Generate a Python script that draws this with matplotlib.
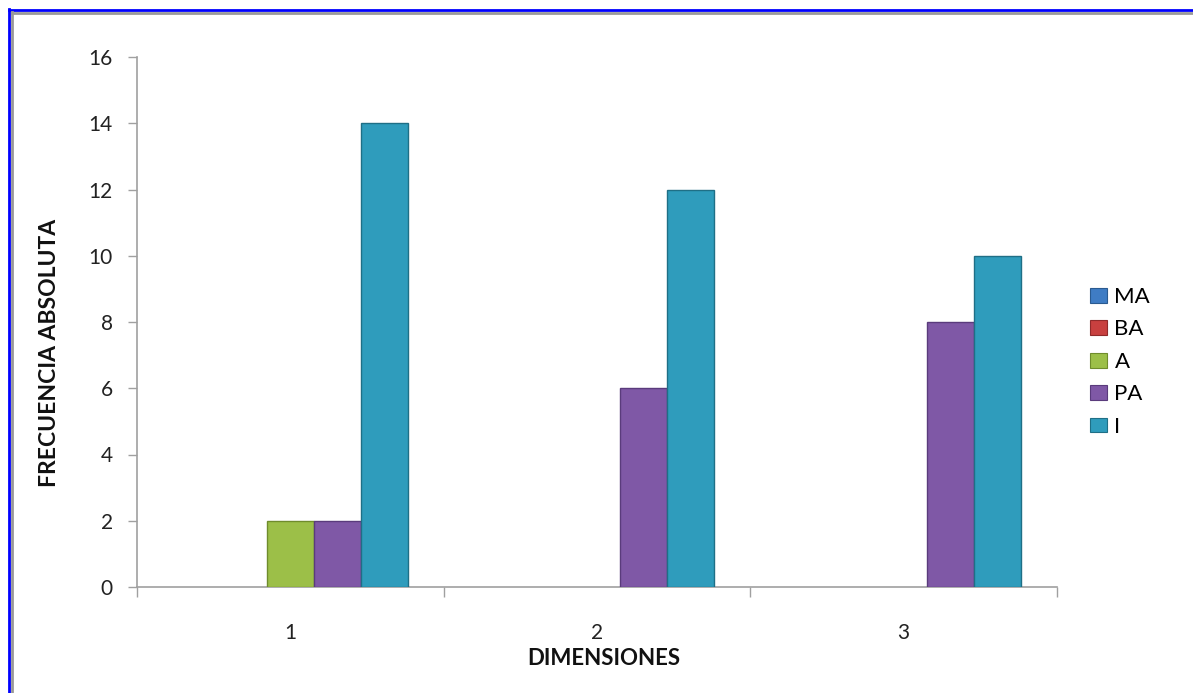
import matplotlib
matplotlib.use("Agg")
import matplotlib.pyplot as plt
import numpy as np
from matplotlib.lines import Line2D
from matplotlib.patches import Patch

categories = ["1", "2", "3"]
series_names = ["MA", "BA", "A", "PA", "I"]
MA = [0, 0, 0]
BA = [0, 0, 0]
A = [2, 0, 0]
PA = [2, 6, 8]
I = [14, 12, 10]
series_values = [MA, BA, A, PA, I]
colors = ["#3f7cc4", "#c8403f", "#9cbf48", "#7f58a6", "#2f9cbc"]
edges = ["#2a5a90", "#8f2a2a", "#6f8c2c", "#5a3b7c", "#1f6f86"]

plt.rcParams['font.family'] = ['Lato', 'DejaVu Sans']
fig = plt.figure(figsize=(11.93, 6.93), dpi=100)
ax = fig.add_axes([137/1193, 1-587/693, 920/1193, 530/693])

x = np.arange(len(categories))
w = 0.153
for i, (name, vals) in enumerate(zip(series_names, series_values)):
    vals = np.array(vals, dtype=float)
    lw = np.where(vals > 0, 1.0, 0.0)
    ax.bar(x + (i - 2) * w, vals, width=w, color=colors[i], edgecolor=edges[i],
           linewidth=lw, zorder=3)

ax.set_xlim(-0.5, 2.5)
ax.set_ylim(0, 16)
ax.set_yticks(range(0, 17, 2))
ax.set_xticks(x)
ax.set_xticklabels(categories)
ax.set_xticks([-0.5, 0.5, 1.5, 2.5], minor=True)
ax.tick_params(axis='x', which='major', length=0, pad=26, labelsize=15, colors='#222222')
ax.tick_params(axis='x', which='minor', length=7, width=1, color='#a0a0a0', direction='out')
ax.tick_params(axis='y', length=6.5, width=1, color='#a0a0a0', labelsize=15, pad=11, labelcolor='#222222')
for s in ['top', 'right']:
    ax.spines[s].set_visible(False)
for s in ['left', 'bottom']:
    ax.spines[s].set_color('#a0a0a0')
    ax.spines[s].set_linewidth(1.2)

ax.set_xlabel("DIMENSIONES", fontsize=16, fontweight='bold', color='#111111')
ax.set_ylabel("FRECUENCIA ABSOLUTA", fontsize=16.5, fontweight='bold', color='#111111')
ax.yaxis.set_label_coords(-0.0837, 0.4415)
ax.xaxis.set_label_coords(0.507, -0.115)

handles = [Patch(facecolor=c, edgecolor=e, linewidth=0.8) for c, e in zip(colors, edges)]
leg = fig.legend(handles, series_names, loc='upper left', bbox_to_anchor=(1090/1193, 1-287/693),
                 frameon=False, fontsize=16, handlelength=0.75, handleheight=0.65,
                 handletextpad=0.35, labelspacing=0.56, borderaxespad=0, borderpad=0)

# outer frame
fig.add_artist(Line2D([9/1193, 9/1193], [0, 1-9/693], transform=fig.transFigure, color='#0000ff', lw=2))
fig.add_artist(Line2D([9/1193, 1], [1-9.5/693, 1-9.5/693], transform=fig.transFigure, color='#0000ff', lw=2))
fig.add_artist(Line2D([11.5/1193, 11.5/1193], [0, 1-12/693], transform=fig.transFigure, color='#999999', lw=2))
fig.add_artist(Line2D([11.5/1193, 1], [1-12.5/693, 1-12.5/693], transform=fig.transFigure, color='#999999', lw=2))

fig.savefig("out.png", dpi=100)
